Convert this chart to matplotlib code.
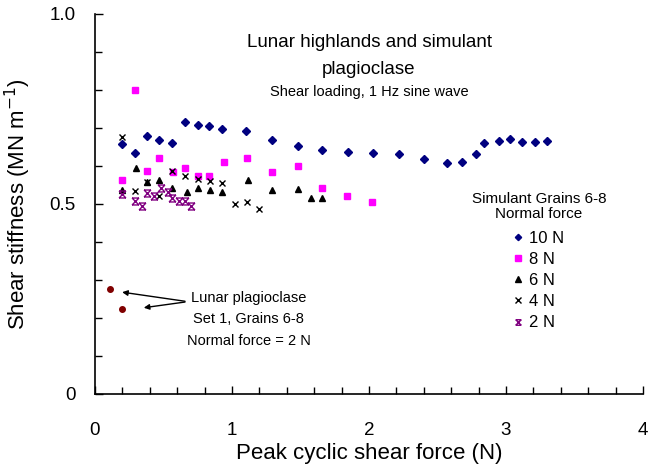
import numpy as np
import matplotlib.pyplot as plt
from matplotlib.path import Path

plt.rcParams['font.family'] = ['Liberation Sans', 'DejaVu Sans']

# simulant grains 6-8, by normal force
f10_x = [0.20, 0.29, 0.38, 0.47, 0.56, 0.66, 0.75, 0.83, 0.93, 1.10, 1.29, 1.48, 1.66,
         1.85, 2.03, 2.22, 2.40, 2.57, 2.68, 2.78, 2.84, 2.95, 3.03, 3.12, 3.21, 3.30]
f10_y = [0.659, 0.635, 0.679, 0.668, 0.660, 0.715, 0.709, 0.704, 0.698, 0.692, 0.668, 0.652, 0.643,
         0.638, 0.634, 0.632, 0.619, 0.609, 0.611, 0.632, 0.660, 0.665, 0.672, 0.664, 0.662, 0.666]

f8_x = [0.20, 0.29, 0.38, 0.47, 0.57, 0.66, 0.75, 0.83, 0.94, 1.11, 1.29, 1.48, 1.66, 1.84, 2.02]
f8_y = [0.563, 0.799, 0.587, 0.620, 0.584, 0.594, 0.574, 0.574, 0.610, 0.621, 0.584, 0.601, 0.541, 0.522, 0.506]

f6_x = [0.20, 0.30, 0.38, 0.47, 0.56, 0.67, 0.75, 0.84, 0.93, 1.12, 1.29, 1.48, 1.58, 1.66]
f6_y = [0.536, 0.595, 0.557, 0.564, 0.543, 0.532, 0.541, 0.537, 0.531, 0.562, 0.536, 0.539, 0.516, 0.516]

f4_x = [0.20, 0.29, 0.38, 0.47, 0.56, 0.66, 0.75, 0.84, 0.93, 1.02, 1.11, 1.20]
f4_y = [0.676, 0.534, 0.557, 0.521, 0.587, 0.574, 0.566, 0.561, 0.555, 0.500, 0.504, 0.486]

f2_x = [0.20, 0.29, 0.34, 0.38, 0.43, 0.48, 0.53, 0.56, 0.61, 0.66, 0.70]
f2_y = [0.527, 0.507, 0.494, 0.530, 0.521, 0.542, 0.532, 0.515, 0.507, 0.507, 0.496]

# lunar plagioclase, set 1
lunar_x = [0.11, 0.20]
lunar_y = [0.277, 0.224]

# x with bars on top and bottom (excel style)
bar_x = Path([(-1, -1), (1, 1), (-1, 1), (1, -1), (-1, 1), (1, 1), (-1, -1), (1, -1)],
             [Path.MOVETO, Path.LINETO] * 4)

fig = plt.figure(figsize=(6.48, 4.71), dpi=100)
ax = fig.add_axes([0.1466, 0.1635, 0.8457, 0.8068])

ax.plot(f10_x, f10_y, 'D', color='#000080', ms=4, ls='none', label='10 N')
ax.plot(f8_x, f8_y, 's', color='#FF00FF', ms=5, ls='none', label='8 N')
ax.plot(f6_x, f6_y, '^', color='black', ms=5, ls='none', label='6 N')
ax.plot(f4_x, f4_y, 'x', color='black', ms=5, mew=1, ls='none', label='4 N')
ax.plot(f2_x, f2_y, marker=bar_x, color='#800080', ms=5, mew=1, ls='none', label='2 N')
ax.plot(lunar_x, lunar_y, 'o', color='#800000', ms=4, ls='none')

ax.set_xlim(0, 4)
ax.set_ylim(0, 1)
ax.set_xticks([0, 1, 2, 3, 4])
ax.set_xticks(np.arange(0, 4.01, 0.2), minor=True)
ax.set_yticks([0, 0.5, 1.0])
ax.set_yticklabels(['0', '0.5', '1.0'])
ax.set_yticks(np.arange(0, 1.01, 0.1), minor=True)
ax.tick_params(which='both', direction='in', labelsize=13.5, width=1)
ax.tick_params(which='major', length=6)
ax.tick_params(which='minor', length=5)
ax.tick_params(axis='x', which='major', pad=20)
ax.tick_params(axis='y', which='major', pad=14)
for s in ['top', 'right']:
    ax.spines[s].set_visible(False)
for s in ['left', 'bottom']:
    ax.spines[s].set_linewidth(1.2)

ax.set_xlabel('Peak cyclic shear force (N)', fontsize=16, labelpad=3)
ax.set_ylabel('Shear stiffness (MN m$^{-1}$)', fontsize=16, labelpad=12)

ax.text(2.0, 0.924, 'Lunar highlands and simulant', ha='center', va='center', fontsize=13.5)
ax.text(2.0, 0.853, 'plagioclase', ha='center', va='center', fontsize=13.5)
ax.text(2.0, 0.795, 'Shear loading, 1 Hz sine wave', ha='center', va='center', fontsize=10.5)

ax.text(1.12, 0.253, 'Lunar plagioclase', ha='center', va='center', fontsize=10.5)
ax.text(1.12, 0.198, 'Set 1, Grains 6-8', ha='center', va='center', fontsize=10.5)
ax.text(1.12, 0.140, 'Normal force = 2 N', ha='center', va='center', fontsize=10.5)
for hx, hy in [(0.178, 0.269), (0.336, 0.226)]:
    ax.annotate('', xy=(hx, hy), xytext=(0.677, 0.243),
                arrowprops=dict(arrowstyle='-|>', color='black', lw=1, mutation_scale=8))

leg = ax.legend(title='Simulant Grains 6-8\nNormal force', frameon=False, fontsize=12,
                title_fontsize=11, loc='upper center', bbox_to_anchor=(0.81, 0.571),
                handlelength=0.5, handletextpad=0.4, labelspacing=0.37, markerscale=0.8)
leg.get_title().set_linespacing(1.1)
leg.get_title().set_ha('center')
leg._legend_box.sep = 7

fig.savefig('out.png', dpi=100)
